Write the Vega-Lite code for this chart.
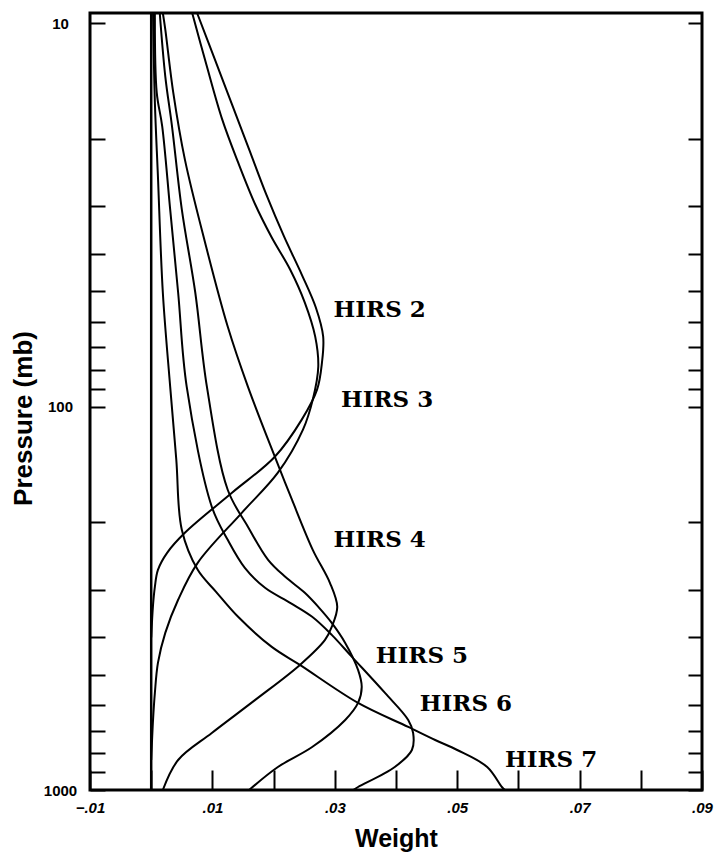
{
  "$schema": "https://vega.github.io/schema/vega-lite/v6.json",
  "width": 612,
  "height": 777,
  "autosize": {"type": "none"},
  "padding": {"left": 90, "top": 13, "right": 16, "bottom": 67},
  "background": "white",
  "config": {
    "view": {"stroke": "black", "strokeWidth": 3},
    "axis": {"domain": false, "grid": false, "tickColor": "black", "tickWidth": 2, "labelColor": "black", "titleColor": "black", "labelFont": "Liberation Sans", "titleFont": "Liberation Sans"}
  },
  "datasets": {
    "zero": [{"w": 0}],
    "curves": [
      {"ch": "HIRS 2", "w": 0.0075, "p": 9.4},
      {"ch": "HIRS 2", "w": 0.0104, "p": 12.42},
      {"ch": "HIRS 2", "w": 0.0132, "p": 16.27},
      {"ch": "HIRS 2", "w": 0.016, "p": 21.33},
      {"ch": "HIRS 2", "w": 0.0188, "p": 27.96},
      {"ch": "HIRS 2", "w": 0.0217, "p": 35.98},
      {"ch": "HIRS 2", "w": 0.0246, "p": 45.23},
      {"ch": "HIRS 2", "w": 0.0269, "p": 55.14},
      {"ch": "HIRS 2", "w": 0.0281, "p": 65.66},
      {"ch": "HIRS 2", "w": 0.0279, "p": 76.77},
      {"ch": "HIRS 2", "w": 0.0271, "p": 90.28},
      {"ch": "HIRS 2", "w": 0.0246, "p": 108.1},
      {"ch": "HIRS 2", "w": 0.0202, "p": 135.1},
      {"ch": "HIRS 2", "w": 0.0132, "p": 167.7},
      {"ch": "HIRS 2", "w": 0.0055, "p": 213.3},
      {"ch": "HIRS 2", "w": 0.0026, "p": 240.6},
      {"ch": "HIRS 2", "w": 0.0011, "p": 266.5},
      {"ch": "HIRS 2", "w": 0.0006, "p": 295.1},
      {"ch": "HIRS 2", "w": 0.0003, "p": 328.9},
      {"ch": "HIRS 2", "w": 0.0, "p": 400},
      {"ch": "HIRS 3", "w": 0.0067, "p": 9.4},
      {"ch": "HIRS 3", "w": 0.009, "p": 12.79},
      {"ch": "HIRS 3", "w": 0.0116, "p": 17.81},
      {"ch": "HIRS 3", "w": 0.0142, "p": 23.06},
      {"ch": "HIRS 3", "w": 0.017, "p": 29.69},
      {"ch": "HIRS 3", "w": 0.0197, "p": 36.2},
      {"ch": "HIRS 3", "w": 0.0227, "p": 43.88},
      {"ch": "HIRS 3", "w": 0.0251, "p": 53.52},
      {"ch": "HIRS 3", "w": 0.0268, "p": 65.66},
      {"ch": "HIRS 3", "w": 0.0273, "p": 78.65},
      {"ch": "HIRS 3", "w": 0.0264, "p": 95.87},
      {"ch": "HIRS 3", "w": 0.0248, "p": 114.8},
      {"ch": "HIRS 3", "w": 0.0207, "p": 148.7},
      {"ch": "HIRS 3", "w": 0.0148, "p": 189.2},
      {"ch": "HIRS 3", "w": 0.0076, "p": 255.5},
      {"ch": "HIRS 3", "w": 0.0044, "p": 319.0},
      {"ch": "HIRS 3", "w": 0.0023, "p": 389.1},
      {"ch": "HIRS 3", "w": 0.0011, "p": 466.0},
      {"ch": "HIRS 3", "w": 0.0006, "p": 558.2},
      {"ch": "HIRS 3", "w": 0.0003, "p": 656.5},
      {"ch": "HIRS 3", "w": 0.0, "p": 835},
      {"ch": "HIRS 4", "w": 0.0019, "p": 9.4},
      {"ch": "HIRS 4", "w": 0.0023, "p": 10.37},
      {"ch": "HIRS 4", "w": 0.0036, "p": 15.14},
      {"ch": "HIRS 4", "w": 0.0055, "p": 22.65},
      {"ch": "HIRS 4", "w": 0.0088, "p": 37.31},
      {"ch": "HIRS 4", "w": 0.0125, "p": 61.82},
      {"ch": "HIRS 4", "w": 0.0158, "p": 88.68},
      {"ch": "HIRS 4", "w": 0.0202, "p": 135.1},
      {"ch": "HIRS 4", "w": 0.023, "p": 174.9},
      {"ch": "HIRS 4", "w": 0.0264, "p": 236.3},
      {"ch": "HIRS 4", "w": 0.0292, "p": 288.1},
      {"ch": "HIRS 4", "w": 0.0304, "p": 332.8},
      {"ch": "HIRS 4", "w": 0.0295, "p": 375.3},
      {"ch": "HIRS 4", "w": 0.0284, "p": 405.9},
      {"ch": "HIRS 4", "w": 0.0243, "p": 471.7},
      {"ch": "HIRS 4", "w": 0.017, "p": 582.1},
      {"ch": "HIRS 4", "w": 0.0099, "p": 710.1},
      {"ch": "HIRS 4", "w": 0.0044, "p": 835.1},
      {"ch": "HIRS 4", "w": 0.0019, "p": 1000},
      {"ch": "HIRS 5", "w": 0.0014, "p": 9.4},
      {"ch": "HIRS 5", "w": 0.0023, "p": 13.75},
      {"ch": "HIRS 5", "w": 0.0034, "p": 18.57},
      {"ch": "HIRS 5", "w": 0.005, "p": 30.59},
      {"ch": "HIRS 5", "w": 0.0072, "p": 50.38},
      {"ch": "HIRS 5", "w": 0.0091, "p": 88.68},
      {"ch": "HIRS 5", "w": 0.0125, "p": 164.7},
      {"ch": "HIRS 5", "w": 0.0158, "p": 205.7},
      {"ch": "HIRS 5", "w": 0.0191, "p": 250.9},
      {"ch": "HIRS 5", "w": 0.0219, "p": 277.9},
      {"ch": "HIRS 5", "w": 0.0251, "p": 305.9},
      {"ch": "HIRS 5", "w": 0.0273, "p": 332.8},
      {"ch": "HIRS 5", "w": 0.0295, "p": 366.4},
      {"ch": "HIRS 5", "w": 0.0317, "p": 413.3},
      {"ch": "HIRS 5", "w": 0.0338, "p": 486.1},
      {"ch": "HIRS 5", "w": 0.0344, "p": 538.5},
      {"ch": "HIRS 5", "w": 0.0338, "p": 592.7},
      {"ch": "HIRS 5", "w": 0.0317, "p": 656.5},
      {"ch": "HIRS 5", "w": 0.0263, "p": 772.4},
      {"ch": "HIRS 5", "w": 0.0207, "p": 870.9},
      {"ch": "HIRS 5", "w": 0.016, "p": 1000},
      {"ch": "HIRS 6", "w": 0.0006, "p": 9.4},
      {"ch": "HIRS 6", "w": 0.0009, "p": 15.14},
      {"ch": "HIRS 6", "w": 0.0018, "p": 18.57},
      {"ch": "HIRS 6", "w": 0.0031, "p": 30.59},
      {"ch": "HIRS 6", "w": 0.0044, "p": 50.38},
      {"ch": "HIRS 6", "w": 0.0058, "p": 88.68},
      {"ch": "HIRS 6", "w": 0.0099, "p": 182.4},
      {"ch": "HIRS 6", "w": 0.0125, "p": 222.5},
      {"ch": "HIRS 6", "w": 0.0153, "p": 263.3},
      {"ch": "HIRS 6", "w": 0.0186, "p": 296.9},
      {"ch": "HIRS 6", "w": 0.0227, "p": 324.9},
      {"ch": "HIRS 6", "w": 0.0263, "p": 353.4},
      {"ch": "HIRS 6", "w": 0.0295, "p": 393.8},
      {"ch": "HIRS 6", "w": 0.0328, "p": 449.5},
      {"ch": "HIRS 6", "w": 0.0382, "p": 558.2},
      {"ch": "HIRS 6", "w": 0.042, "p": 656.5},
      {"ch": "HIRS 6", "w": 0.0428, "p": 710.1},
      {"ch": "HIRS 6", "w": 0.0426, "p": 786.5},
      {"ch": "HIRS 6", "w": 0.0398, "p": 870.9},
      {"ch": "HIRS 6", "w": 0.0338, "p": 982.1},
      {"ch": "HIRS 6", "w": 0.033, "p": 1000},
      {"ch": "HIRS 7", "w": 0.0003, "p": 9.4},
      {"ch": "HIRS 7", "w": 0.0006, "p": 16.08},
      {"ch": "HIRS 7", "w": 0.0011, "p": 25.09},
      {"ch": "HIRS 7", "w": 0.0019, "p": 50.38},
      {"ch": "HIRS 7", "w": 0.0031, "p": 88.68},
      {"ch": "HIRS 7", "w": 0.0041, "p": 137.5},
      {"ch": "HIRS 7", "w": 0.005, "p": 209.5},
      {"ch": "HIRS 7", "w": 0.0076, "p": 266.5},
      {"ch": "HIRS 7", "w": 0.0106, "p": 304.1},
      {"ch": "HIRS 7", "w": 0.0142, "p": 353.4},
      {"ch": "HIRS 7", "w": 0.0197, "p": 423.3},
      {"ch": "HIRS 7", "w": 0.0243, "p": 471.7},
      {"ch": "HIRS 7", "w": 0.0338, "p": 592.7},
      {"ch": "HIRS 7", "w": 0.042, "p": 684.8},
      {"ch": "HIRS 7", "w": 0.0464, "p": 740.7},
      {"ch": "HIRS 7", "w": 0.05, "p": 786.5},
      {"ch": "HIRS 7", "w": 0.0549, "p": 870.9},
      {"ch": "HIRS 7", "w": 0.0573, "p": 982.1},
      {"ch": "HIRS 7", "w": 0.0578, "p": 1000}
    ],
    "labels": [
      {"label": "HIRS 2", "w": 0.0298, "p": 55.8},
      {"label": "HIRS 3", "w": 0.031, "p": 95.9},
      {"label": "HIRS 4", "w": 0.0298, "p": 222.5},
      {"label": "HIRS 5", "w": 0.0367, "p": 446.8},
      {"label": "HIRS 6", "w": 0.0439, "p": 596.3},
      {"label": "HIRS 7", "w": 0.0578, "p": 835.1}
    ]
  },
  "layer": [
    {
      "data": {"name": "zero"},
      "mark": {"type": "rule", "color": "black", "strokeWidth": 2.5},
      "encoding": {"x": {"field": "w", "type": "quantitative", "scale": {"domain": [-0.01, 0.09], "nice": false, "zero": false}}}
    },
    {
      "data": {"name": "curves"},
      "mark": {"type": "line", "color": "black", "strokeWidth": 2, "interpolate": "catmull-rom"},
      "encoding": {
        "x": {
          "field": "w", "type": "quantitative",
          "scale": {"domain": [-0.01, 0.09], "nice": false, "zero": false},
          "axis": {
            "values": [-0.01, 0, 0.01, 0.02, 0.03, 0.04, 0.05, 0.06, 0.07, 0.08, 0.09],
            "tickSize": -20, "labelPadding": 30, "labelFontSize": 15, "labelFontWeight": "bold", "labelFontStyle": "italic",
            "labelFlush": false, "labelOverlap": false,
            "labelExpr": "abs(round(datum.value*100)) % 2 == 1 ? replace(format(datum.value, '.2f'), '0.', '.') : ''",
            "title": "Weight", "titleFontSize": 25, "titleFontWeight": "bold", "titleY": 48, "titleBaseline": "middle"
          }
        },
        "y": {
          "field": "p", "type": "quantitative",
          "scale": {"type": "log", "domain": [9.4, 1000], "reverse": true, "nice": false},
          "axis": {
            "orient": "left",
            "values": [10, 20, 30, 40, 50, 60, 70, 80, 90, 100, 200, 300, 400, 500, 600, 700, 800, 900, 1000],
            "tickSize": -15, "labelPadding": 45, "labelAlign": "center", "labelFontSize": 15, "labelFontWeight": "bold",
            "labelExpr": "datum.value == 10 || datum.value == 100 || datum.value == 1000 ? '' + datum.value : ''",
            "labelOverlap": false, "labelFlush": false,
            "title": "Pressure  (mb)", "titleFontSize": 26, "titleFontWeight": "bold",
            "titleX": -67, "titleY": 405, "titleBaseline": "middle", "titleAngle": -90
          }
        },
        "detail": {"field": "ch", "type": "nominal"},
        "order": {"field": "p", "type": "quantitative"}
      }
    },
    {
      "data": {"name": "labels"},
      "mark": {"type": "text", "align": "left", "baseline": "middle", "font": "DejaVu Serif", "fontWeight": "bold", "fontSize": 23, "color": "black"},
      "encoding": {
        "x": {"field": "w", "type": "quantitative", "scale": {"domain": [-0.01, 0.09], "nice": false, "zero": false}},
        "y": {
          "field": "p", "type": "quantitative",
          "scale": {"type": "log", "domain": [9.4, 1000], "reverse": true, "nice": false},
          "axis": {
            "orient": "right",
            "values": [10, 20, 30, 40, 50, 60, 70, 80, 90, 100, 200, 300, 400, 500, 600, 700, 800, 900, 1000],
            "tickSize": -14, "labels": false, "title": null
          }
        },
        "text": {"field": "label", "type": "nominal"}
      }
    }
  ],
  "resolve": {"axis": {"y": "independent"}}
}
